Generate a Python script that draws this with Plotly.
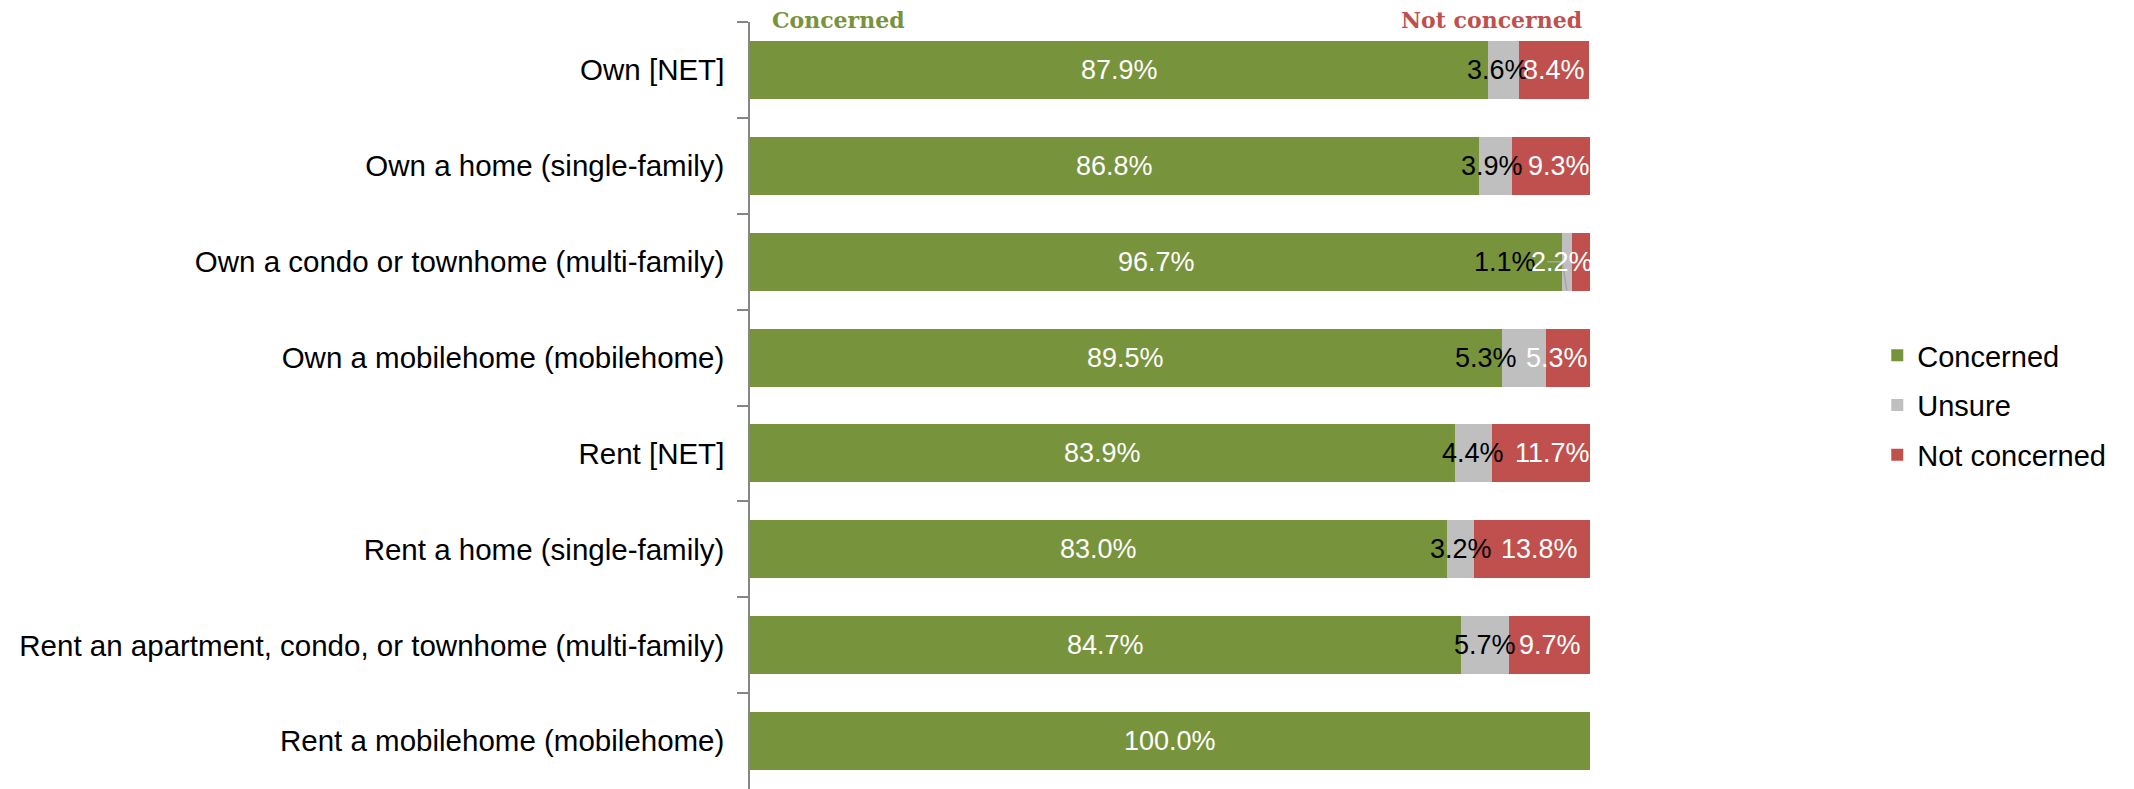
import plotly.graph_objects as go

# Survey responses by housing situation (percent of respondents)
categories = [
    "Own [NET]",
    "Own a home (single-family)",
    "Own a condo or townhome (multi-family)",
    "Own a mobilehome (mobilehome)",
    "Rent [NET]",
    "Rent a home (single-family)",
    "Rent an apartment, condo, or townhome (multi-family)",
    "Rent a mobilehome (mobilehome)",
]
concerned = [87.9, 86.8, 96.7, 89.5, 83.9, 83.0, 84.7, 100.0]
unsure = [3.6, 3.9, 1.1, 5.3, 4.4, 3.2, 5.7, 0.0]
not_concerned = [8.4, 9.3, 2.2, 5.3, 11.7, 13.8, 9.7, 0.0]

GREEN = "#77933C"
GREY = "#BFBFBF"
RED = "#C0504D"
SANS = "Liberation Sans, Arial, sans-serif"
SERIF = "DejaVu Serif, Georgia, serif"

series = [
    ("Concerned", concerned, GREEN, "white"),
    ("Unsure", unsure, GREY, "black"),
    ("Not concerned", not_concerned, RED, "white"),
]

fig = go.Figure()
for name, vals, color, _ in series:
    fig.add_trace(go.Bar(
        name=name, x=vals, y=categories, orientation="h",
        marker=dict(color=color, line=dict(width=0)),
        legendgroup=name, hoverinfo="x+y+name",
    ))

# label nudges (pixels) where labels sit off-centre to avoid collisions
nudge = {("Unsure", 0): -5,
         ("Unsure", 1): -4, ("Not concerned", 1): 8,
         ("Unsure", 2): -62, ("Not concerned", 2): -19,
         ("Unsure", 3): -38, ("Not concerned", 3): -12,
         ("Not concerned", 4): 12, ("Not concerned", 5): 7}

annotations = []
left = [0.0] * len(categories)
for name, vals, color, tcolor in series:
    for i, v in enumerate(vals):
        if v > 0:
            annotations.append(dict(
                x=left[i] + v / 2, y=categories[i], xref="x", yref="y",
                text=f"{v:.1f}%", showarrow=False,
                xshift=nudge.get((name, i), 0),
                font=dict(family=SANS, size=27, color=tcolor),
            ))
        left[i] += v

# column headers above the bars
annotations.append(dict(
    x=0, y=1, xref="x", yref="paper", xanchor="left", yanchor="middle",
    xshift=20, yshift=2, text="<b>Concerned</b>", showarrow=False,
    font=dict(family=SERIF, size=22, color=GREEN),
))
annotations.append(dict(
    x=100, y=1, xref="x", yref="paper", xanchor="right", yanchor="middle",
    xshift=-6, yshift=2, text="<b>Not concerned</b>", showarrow=False,
    font=dict(family=SERIF, size=22, color=RED),
))

# callout line for the small segment in the condo/townhome row
r = 2
fig.add_shape(
    type="path", xref="x", yref="y",
    path=(f"M {concerned[r] - 1.8},{r} L {concerned[r]},{r} "
          f"L {concerned[r] + unsure[r] / 2},{r + 0.3}"),
    line=dict(color="#A6A6A6", width=1.5),
)

fig.update_layout(
    width=2134, height=789,
    margin=dict(l=750, r=544, t=22, b=0, pad=0),
    barmode="stack", bargap=0.395,
    plot_bgcolor="white", paper_bgcolor="white",
    annotations=annotations,
    legend=dict(
        x=1.342, y=0.5, xanchor="left", yanchor="middle",
        font=dict(family=SANS, size=29, color="black"),
        traceorder="grouped", tracegroupgap=9,
        bgcolor="rgba(0,0,0,0)",
    ),
    xaxis=dict(range=[0, 100], visible=False, fixedrange=True),
    yaxis=dict(
        type="category", categoryorder="array", categoryarray=categories,
        autorange="reversed", showline=True, linecolor="#868686", linewidth=1.5,
        ticks="outside", tickson="boundaries", ticklen=11, tickcolor="#868686",
        tickwidth=1.5, showgrid=False, zeroline=False,
        tickfont=dict(family=SANS, size=29.5, color="black"),
        ticklabelstandoff=18,
    ),
    showlegend=True,
)

fig.write_html("out.html")
